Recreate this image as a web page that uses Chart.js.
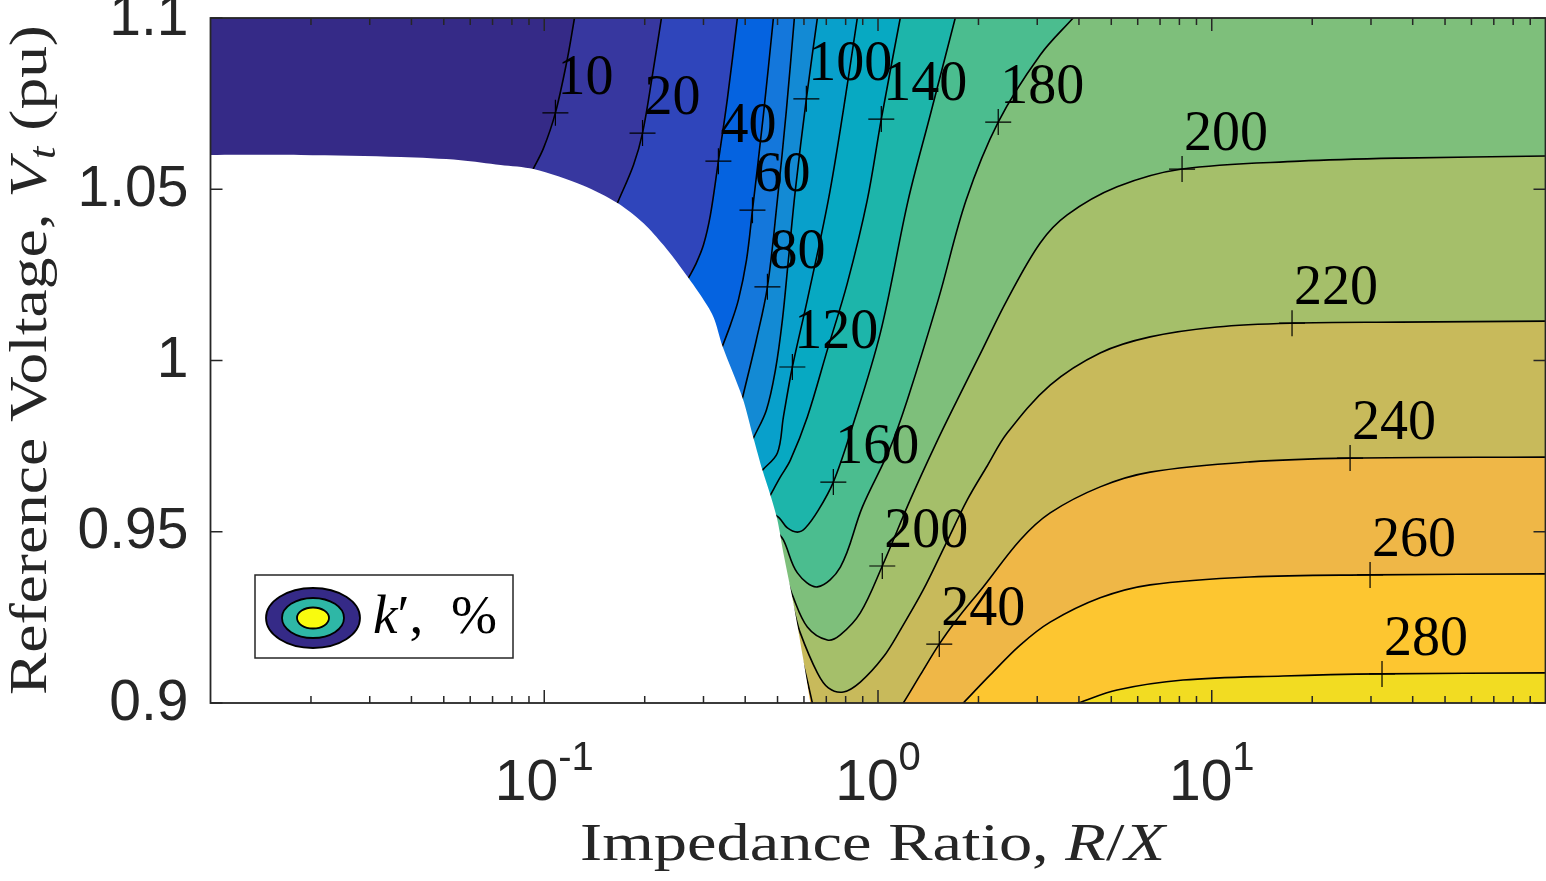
<!DOCTYPE html>
<html><head><meta charset="utf-8">
<script src="https://cdn.jsdelivr.net/npm/chart.js@4.4.1/dist/chart.umd.min.js"></script>
<style>html,body{margin:0;padding:0;background:#fff;overflow:hidden}#wrap{width:1546px;height:881px}</style>
</head><body><div id="wrap"><canvas id="c" width="1546" height="881"></canvas></div>
<script>
// ---- axes ----
const xRange = [0.01, 100];
const yRange = [0.9, 1.1];
const xMajorTicks = [0.1, 1, 10];
const xMajorExp = ['-1', '0', '1'];
const yTicks = [0.9, 0.95, 1, 1.05, 1.1];
const yTickLabels = ['0.9', '0.95', '1', '1.05', '1.1'];

// ---- contour levels (k', %) and band colours ----
const levels = [10, 20, 40, 60, 80, 100, 120, 140, 160, 180, 200, 220, 240, 260, 280];
const bandColors = ['#352a87','#37379f','#2f45bb','#0563e0','#1477db','#138ad4','#08a0cb','#07a9c2',
                    '#1db5aa','#4bbd8f','#7ebf7b','#a5bf6a','#c8ba5b','#efb747','#fdc630','#f2dc22'];

// ---- contour lines: [R/X, Vt] ----
const c10 = [[0.1232,1.1],[0.1174,1.0883],[0.108,1.0723],[0.0995,1.062],[0.0923,1.0556]];
const c20 = [[0.2245,1.1],[0.211,1.0834],[0.197,1.0664],[0.1851,1.0571],[0.1657,1.046]];
const c40 = [[0.379,1.1],[0.354,1.0766],[0.3325,1.0582],[0.3147,1.0425],[0.2999,1.0337],[0.2838,1.0279],[0.2704,1.0241]];
const c60 = [[0.486,1.1],[0.4536,1.0717],[0.4206,1.0439],[0.4036,1.0293],[0.3817,1.0177],[0.3613,1.0104],[0.3419,1.0042]];
const c80 = [[0.5616,1.1],[0.5315,1.0731],[0.4995,1.0469],[0.4663,1.0215],[0.432,1.006],[0.3926,0.9891]];
const c100 = [[0.6582,1.1],[0.61,1.0764],[0.5655,1.0498],[0.5388,1.0293],[0.517,1.0118],[0.4927,0.9972],[0.4629,0.9855],[0.4235,0.9774]];
const c120 = [[0.867,1.1],[0.7875,1.0731],[0.71,1.0469],[0.6142,1.0177],[0.5539,0.9981],[0.5206,0.9835],[0.4995,0.973],[0.4505,0.968]];
const c140 = [[1.166,1.1],[1.023,1.0705],[0.9289,1.0469],[0.8094,1.0226],[0.7051,1.0031],[0.6142,0.9835],[0.5463,0.9709],[0.51,0.966],[0.476,0.9607]];
const c160 = [[1.704,1.1],[1.434,1.0717],[1.232,1.0469],[1.016,1.008],[0.8263,0.9788],[0.7348,0.9645],[0.6627,0.9563],[0.6058,0.9511],[0.5733,0.9499],[0.5352,0.9511],[0.5064,0.954],[0.476,0.9558]];
const c180 = [[3.843,1.1],[3.062,1.0892],[2.292,1.0696],[1.838,1.0469],[1.515,1.0177],[1.224,0.9885],[1.081,0.9739],[0.8975,0.9572],[0.7713,0.9397],[0.6582,0.9339],[0.5733,0.938],[0.5206,0.9476],[0.4927,0.9505]];
const c200 = [[100,1.0597],[36.66,1.0591],[18.38,1.0582],[8.148,1.0559],[5.206,1.0507],[3.689,1.0425],[3.062,1.0343],[2.438,1.0177],[2.053,1.0031],[1.728,0.9885],[1.484,0.9753],[1.249,0.9593],[1.03,0.94],[0.8851,0.9263],[0.7713,0.9199],[0.7051,0.9184],[0.6142,0.9222],[0.5539,0.9315],[0.5206,0.9388],[0.4927,0.9417]];
const c220 = [[100,1.0115],[36.66,1.0112],[17.4,1.0109],[10.37,1.0098],[6.537,1.0069],[4.63,1.0022],[3.28,0.9928],[2.438,0.9788],[2.124,0.9692],[1.851,0.9593],[1.59,0.9461],[1.366,0.933],[1.166,0.9213],[1.037,0.9134],[0.8851,0.9061],[0.7875,0.9032],[0.71,0.9044],[0.6582,0.9088],[0.5853,0.9204],[0.5463,0.9301],[0.51,0.9345]];
const c240 = [[100,0.9718],[25.97,0.9715],[13.02,0.9704],[6.537,0.9674],[4.63,0.9631],[3.28,0.9555],[2.667,0.9476],[2.067,0.9339],[1.764,0.9257],[1.526,0.9172],[1.339,0.9082],[1.191,0.9],[1.052,0.8921],[0.8263,0.8834],[0.672,0.8892],[0.6358,0.9],[0.5975,0.9111],[0.5693,0.9169]];
const c260 = [[100,0.9377],[29.81,0.9374],[13.02,0.9368],[6.537,0.9345],[4.63,0.9307],[3.28,0.9236],[2.667,0.9169],[2.169,0.9082],[1.801,0.9]];
const c280 = [[100,0.9088],[32.37,0.9085],[16.35,0.9079],[8.204,0.9067],[5.206,0.9038],[3.979,0.9]];
const contours = [c10,c20,c40,c60,c80,c100,c120,c140,c160,c180,c200,c220,c240,c260,c280];

// ---- edge of the region with no solution (left/below is blank) ----
const noDataEdge = [[0.01,1.06],[0.01864,1.06],[0.03714,1.0594],[0.05616,1.0585],[0.07398,1.0571],[0.0929,1.0559],[0.1302,1.0512],[0.1657,1.046],[0.1984,1.0401],[0.2276,1.0337],[0.2559,1.0273],[0.2938,1.0191],[0.3213,1.0127],[0.3419,1.0042],[0.3926,0.9891],[0.4235,0.9774],[0.4505,0.968],[0.476,0.9607],[0.4995,0.9534],[0.5206,0.9438],[0.5577,0.9292],[0.5975,0.9126],[0.6271,0.9]];

// ---- contour labels ----
const labelText = ['10','20','40','60','80','100','120','140','160','180','200','200','220','240','240','260','280'];
const labelRX = [0.108,0.197,0.3325,0.4206,0.4663,0.61,0.5539,1.023,0.7348,2.292,8.148,1.03,17.4,25.97,1.526,29.81,32.37];
const labelV = [1.0723,1.0664,1.0582,1.0439,1.0215,1.0764,0.9981,1.0705,0.9645,1.0696,1.0559,0.94,1.0109,0.9715,0.9172,0.9374,0.9085];

// ---- path helpers (geometry for closing the filled regions, outside the plot) ----
const TENSION = 0.35;
const reflect = (a, b) => [a[0] * a[0] / b[0], a[1] + (a[1] - b[1])];   // mirror b through a (log x)
const xLow = xRange[0] / 10, xHigh = xRange[1] * 10, yLow = yRange[0] - 0.05, yHigh = yRange[1] + 0.05;
function extended(c) {
  const n = c.length;
  return [reflect(c[0], c[1])].concat(c, [reflect(c[n - 1], c[n - 2])]);
}
function closure(c) {
  const startsRight = c[0][0] >= xRange[1];
  const pts = [[xLow, yLow], [xHigh, yLow]];
  if (startsRight) pts.push([xHigh, c[0][1]]);
  else pts.push([xHigh, yHigh], [c[0][0], yHigh]);
  return pts;
}
function blankShape(e) {
  const n = e.length;
  const tail = reflect(e[n - 1], e[n - 2]);
  return [[xRange[0] / 2, e[0][1]]].concat(e, [tail, [xRange[0] / 2, tail[1]]]);
}
const toPts = arr => arr.map(p => ({x: p[0], y: p[1]}));

const ds = [];
contours.forEach((c, i) => ds.push({
  label: 'band ' + levels[i], data: toPts(extended(c).concat(closure(c))), fill: 'shape',
  backgroundColor: bandColors[i + 1], borderWidth: 0, borderColor: 'rgba(0,0,0,0)', pointRadius: 0,
  tension: TENSION, capBezierPoints: false
}));
contours.forEach((c, i) => ds.push({
  label: 'k ' + levels[i], data: toPts(extended(c)), fill: false, borderColor: '#000', borderWidth: 1.6,
  pointRadius: 0, tension: TENSION, capBezierPoints: false
}));
ds.push({label: 'blank', data: toPts(blankShape(noDataEdge)), fill: 'shape',
  backgroundColor: '#ffffff', borderWidth: 0, borderColor: 'rgba(0,0,0,0)', pointRadius: 0,
  tension: 0.3, capBezierPoints: false});
ds.push({label: 'labels', data: labelRX.map((x, i) => ({x, y: labelV[i]})), showLine: false,
  pointStyle: 'cross', pointRadius: 13, pointBorderWidth: 1.2, pointBorderColor: '#000', borderColor: '#000'});
ds.forEach((d, i) => { d.order = ds.length - i; });

const serif = '"Liberation Serif", "Times New Roman", serif';
const sans = '"Liberation Sans", Arial, Helvetica, sans-serif';
const axisCol = '#262626';

function richLine(ctx, parts, size, target) {
  let w = 0;
  parts.forEach(p => { ctx.font = (p[1] || '') + ' ' + Math.round(size * (p[2] || 1)) + 'px ' + serif; p.w = ctx.measureText(p[0]).width; w += p.w; });
  const s = target / w;
  ctx.save();
  ctx.scale(s, 1);
  let x = 0;
  parts.forEach(p => { ctx.font = (p[1] || '') + ' ' + Math.round(size * (p[2] || 1)) + 'px ' + serif; ctx.fillText(p[0], x, p[3] || 0); x += p.w; });
  ctx.restore();
}

const bgPlugin = {
  id: 'bg',
  beforeDatasetsDraw(chart) {
    const {ctx, chartArea: a} = chart;
    ctx.save(); ctx.fillStyle = bandColors[0];
    ctx.fillRect(a.left, a.top, a.right - a.left, a.bottom - a.top); ctx.restore();
  }
};

const decoPlugin = {
  id: 'deco',
  afterDatasetsDraw(chart) {
    const {ctx} = chart; const xs = chart.scales.x, ys = chart.scales.y;
    ctx.save();
    ctx.fillStyle = '#000'; ctx.textAlign = 'left'; ctx.textBaseline = 'alphabetic';
    ctx.font = '56px ' + serif;
    labelText.forEach((t, i) => {
      const px = xs.getPixelForValue(labelRX[i]), py = ys.getPixelForValue(labelV[i]);
      ctx.fillText(t, px + 2, py - 19);
    });
    ctx.restore();
  },
  afterDraw(chart) {
    const {ctx, chartArea: a} = chart; const xs = chart.scales.x, ys = chart.scales.y;
    ctx.save();
    // box
    ctx.strokeStyle = axisCol; ctx.lineWidth = 1.8;
    ctx.strokeRect(a.left, a.top, a.right - a.left, a.bottom - a.top);
    // ticks (inward, mirrored)
    ctx.lineWidth = 1.5; ctx.beginPath();
    for (let d = -2; d <= 1; d++) {
      for (let m = 1; m <= 9; m++) {
        const v = m * Math.pow(10, d);
        if (v <= xRange[0] || v >= xRange[1]) continue;
        const px = xs.getPixelForValue(v);
        const len = m === 1 ? 13 : 7;
        ctx.moveTo(px, a.bottom); ctx.lineTo(px, a.bottom - len);
        ctx.moveTo(px, a.top); ctx.lineTo(px, a.top + len);
      }
    }
    yTicks.forEach(v => {
      const py = ys.getPixelForValue(v);
      ctx.moveTo(a.left, py); ctx.lineTo(a.left + 12, py);
      ctx.moveTo(a.right, py); ctx.lineTo(a.right - 12, py);
    });
    ctx.stroke();
    // y tick labels
    ctx.fillStyle = axisCol; ctx.font = '57px ' + sans;
    ctx.textAlign = 'right'; ctx.textBaseline = 'middle';
    yTicks.forEach((v, i) => ctx.fillText(yTickLabels[i], a.left - 22, ys.getPixelForValue(v) + 1));
    // x tick labels 10^k
    ctx.textAlign = 'left'; ctx.textBaseline = 'alphabetic';
    xMajorTicks.forEach((v, i) => {
      const px = xs.getPixelForValue(v);
      ctx.font = '57px ' + sans; const wb = ctx.measureText('10').width;
      ctx.font = '40px ' + sans; const ws = ctx.measureText(xMajorExp[i]).width;
      const x0 = px - (wb + ws) / 2;
      ctx.font = '57px ' + sans; ctx.fillText('10', x0, a.bottom + 97);
      ctx.font = '40px ' + sans; ctx.fillText(xMajorExp[i], x0 + wb, a.bottom + 67);
    });
    // axis titles
    ctx.save();
    ctx.translate(580, a.bottom + 157);
    richLine(ctx, [['Impedance Ratio, ', ''], ['R', 'italic'], ['/', ''], ['X', 'italic']], 53, 585);
    ctx.restore();
    ctx.save();
    ctx.translate(46, 695); ctx.rotate(-Math.PI / 2);
    richLine(ctx, [['Reference Voltage, ', ''], ['V', 'italic'], ['t', 'italic', 0.7, 9], [' (pu)', '']], 53, 670);
    ctx.restore();
    // legend
    const bx = a.left + 44.5, by = a.bottom - 128, bw = 258, bh = 83;
    ctx.fillStyle = '#fff'; ctx.fillRect(bx, by, bw, bh);
    ctx.strokeStyle = axisCol; ctx.lineWidth = 1.5; ctx.strokeRect(bx, by, bw, bh);
    const cx = bx + 58, cy = by + 43;
    [[47, 30, '#352a87'], [31, 20, '#2eb7a6'], [16, 10.5, '#f9fb0e']].forEach(e => {
      ctx.beginPath(); ctx.ellipse(cx, cy, e[0], e[1], 0, 0, Math.PI * 2);
      ctx.fillStyle = e[2]; ctx.fill(); ctx.strokeStyle = '#000'; ctx.lineWidth = 1.8; ctx.stroke();
    });
    ctx.fillStyle = '#000';
    ctx.save(); ctx.translate(bx + 118, by + 58);
    richLine(ctx, [['k', 'italic'], ['\u2032', ''], [',  %', '']], 54, 124);
    ctx.restore();
    ctx.restore();
  }
};

new Chart(document.getElementById('c'), {
  type: 'line',
  data: {datasets: ds},
  options: {
    responsive: false, animation: false, events: [],
    layout: {autoPadding: false, padding: {top: 18, right: 0.5, left: 0, bottom: 0}},
    plugins: {legend: {display: false}, tooltip: {enabled: false}},
    scales: {
      x: {type: 'logarithmic', min: xRange[0], max: xRange[1],
          grid: {display: false}, border: {display: false}, ticks: {display: false},
          afterFit(s) { s.height = 178; }},
      y: {type: 'linear', min: yRange[0], max: yRange[1],
          grid: {display: false}, border: {display: false}, ticks: {display: false},
          afterFit(s) { s.width = 210.5; }}
    }
  },
  plugins: [bgPlugin, decoPlugin]
});
</script>
</body></html>
